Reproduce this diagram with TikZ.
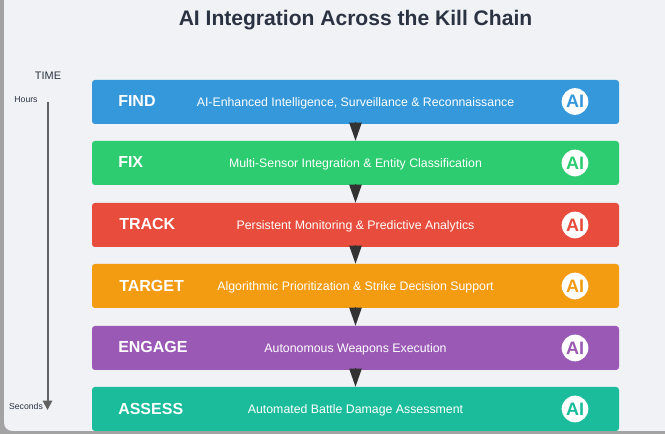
\documentclass[tikz,border=0pt]{standalone}
\usepackage{fontspec}
\setmainfont{Liberation Sans}
\usetikzlibrary{positioning, arrows.meta}
\definecolor{findblue}{HTML}{3498DB}
\definecolor{fixgreen}{HTML}{2ECC71}
\definecolor{trackred}{HTML}{E74C3C}
\definecolor{targetorange}{HTML}{F39C12}
\definecolor{engagepurple}{HTML}{9B59B6}
\definecolor{assessteal}{HTML}{1ABC9C}
\definecolor{pagebg}{HTML}{F0F2F6}
\definecolor{framegray}{HTML}{A3A3A3}
\definecolor{inkdark}{HTML}{2B3342}
\definecolor{arrowdark}{HTML}{333333}
\tikzset{>=latex}
\tikzset{
    stagebox/.style={rectangle, rounded corners=2.2pt, minimum width=395.25pt, minimum height=33pt, inner sep=0pt},
    stagename/.style={anchor=west, inner sep=0pt, text=white, font=\fontsize{12}{14}\selectfont\bfseries},
    stagetext/.style={text=white, font=\fontsize{9.25}{11}\selectfont},
    aibadge/.style={circle, fill=white, minimum size=20pt, inner sep=0pt, font=\fontsize{13.5}{15}\selectfont\bfseries},
    flowarrow/.style={-{Triangle[length=13.5pt,width=9.5pt]}, draw=arrowdark, fill=arrowdark, line width=0pt},
    timelabel/.style={text=inkdark, font=\fontsize{6.5}{8}\selectfont}
}
\begin{document}
\begin{tikzpicture}[x=0.75pt,y=-0.75pt]
    \useasboundingbox (0,0) rectangle (665,434);
    \fill[framegray] (0,0) rectangle (665,434);
    \fill[pagebg] (4,0) -- (665,0) -- (665,431) -- (4,431) -- cycle;
    \fill[framegray] (4,431) -- (12,431) arc[start angle=270, end angle=180, radius=6pt] -- cycle;

    \node (title) at (355.5,20) [text=inkdark, font=\fontsize{15.8}{18}\selectfont\bfseries] {AI Integration Across the Kill Chain};

    % time axis
    \node (time) at (48,76) [text=inkdark, font=\fontsize{8.2}{10}\selectfont] {TIME};
    \node (hours) at (26,99.5) [timelabel] {Hours};
    \node (seconds) at (26,406) [timelabel] {Seconds};
    \coordinate (timestart) at (47.5,102);
    \coordinate (timeend) at (47.5,410);
    \draw[-{Triangle[length=7pt,width=7pt]}, draw=black!62, line width=1.5pt] (timestart) -- (timeend);

    % stages
    \node (find) at (355.5,102) [stagebox, fill=findblue] {};
    \node (fix) at (355.5,163) [stagebox, fill=fixgreen] {};
    \node (track) at (355.5,225) [stagebox, fill=trackred] {};
    \node (target) at (355.5,286) [stagebox, fill=targetorange] {};
    \node (engage) at (355.5,348) [stagebox, fill=engagepurple] {};
    \node (assess) at (355.5,409) [stagebox, fill=assessteal] {};

    \node (findname) at (118,101) [stagename] {FIND};
    \node (fixname) at (118,162.5) [stagename] {FIX};
    \node (trackname) at (119,224) [stagename] {TRACK};
    \node (targetname) at (119,285.5) [stagename] {TARGET};
    \node (engagename) at (118,346.5) [stagename] {ENGAGE};
    \node (assessname) at (118,408.5) [stagename] {ASSESS};

    \node (findtext) at (355.5,103) [stagetext] {AI-Enhanced Intelligence, Surveillance \& Reconnaissance};
    \node (fixtext) at (355.5,164.5) [stagetext] {Multi-Sensor Integration \& Entity Classification};
    \node (tracktext) at (355.5,226) [stagetext] {Persistent Monitoring \& Predictive Analytics};
    \node (targettext) at (355.5,287.5) [stagetext] {Algorithmic Prioritization \& Strike Decision Support};
    \node (engagetext) at (355.5,349) [stagetext] {Autonomous Weapons Execution};
    \node (assesstext) at (355.5,410.5) [stagetext] {Automated Battle Damage Assessment};

    \node (findai) at (575,101.5) [aibadge, text=findblue] {AI};
    \node (fixai) at (575,163) [aibadge, text=fixgreen] {AI};
    \node (trackai) at (575,225) [aibadge, text=trackred] {AI};
    \node (targetai) at (575,286) [aibadge, text=targetorange] {AI};
    \node (engageai) at (575,348) [aibadge, text=engagepurple] {AI};
    \node (assessai) at (575,409) [aibadge, text=assessteal] {AI};

    % connectors
    \draw[flowarrow] (find.south) -- (fix.north);
    \draw[flowarrow] (fix.south) -- (track.north);
    \draw[flowarrow] (track.south) -- (target.north);
    \draw[flowarrow] (target.south) -- (engage.north);
    \draw[flowarrow] (engage.south) -- (assess.north);
\end{tikzpicture}
\end{document}
